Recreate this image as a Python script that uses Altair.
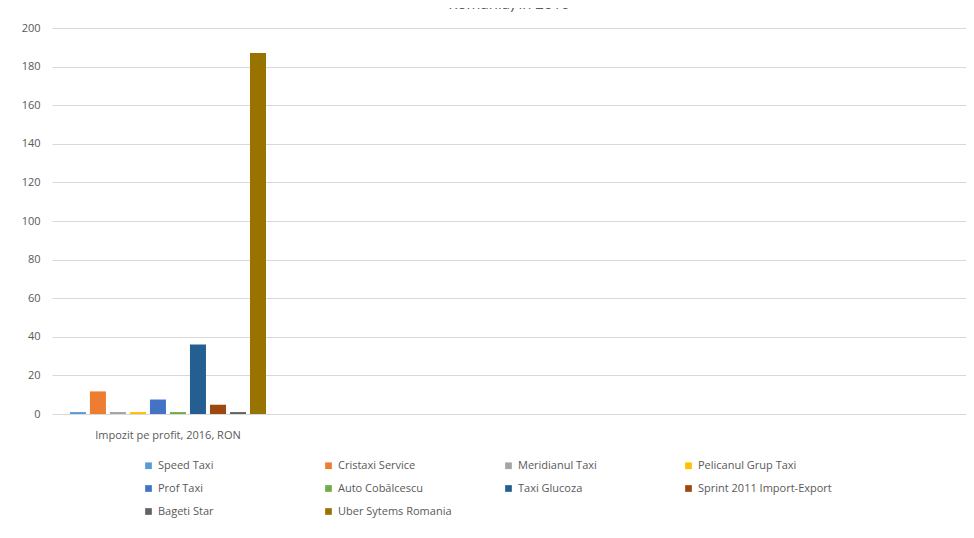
import altair as alt
import pandas as pd

categories = ["Impozit pe profit, 2016, RON", "c2", "c3", "c4"]
series = ["Speed Taxi", "Cristaxi Service", "Meridianul Taxi", "Pelicanul Grup Taxi",
          "Prof Taxi", "Auto Cobălcescu", "Taxi Glucoza", "Sprint 2011 Import-Export",
          "Bageti Star", "Uber Sytems Romania"]
values = [1, 11.7, 1, 1, 7.5, 1, 36, 4.8, 1, 187]
colors = ["#5B9BD5", "#ED7D31", "#A5A5A5", "#FFC000", "#4472C4", "#70AD47",
          "#255E91", "#9E480E", "#636363", "#997300"]
title_text = "Romania) în 2016"

df = pd.DataFrame({"cat": [categories[0]] * len(series), "series": series, "value": values})

txt = "#595959"
bars = alt.Chart(df).mark_bar().encode(
    x=alt.X("cat:N", scale=alt.Scale(domain=categories, paddingInner=0.12, paddingOuter=0.07),
            axis=alt.Axis(title=None, labelAngle=0, ticks=False, domain=False,
                          labelExpr="datum.index == 0 ? datum.label : ''",
                          labelColor=txt, labelFontSize=11, labelPadding=15,
                          labelFont="Open Sans")),
    xOffset=alt.XOffset("series:N", sort=series,
                        scale=alt.Scale(domain=series, paddingInner=0.2, paddingOuter=0.1)),
    y=alt.Y("value:Q", scale=alt.Scale(domain=[0, 200]),
            axis=alt.Axis(title=None, values=list(range(0, 201, 20)), ticks=False, domain=False,
                          gridColor="#d9d9d9", labelColor=txt, labelFontSize=11,
                          labelPadding=12, labelFont="Open Sans")),
    color=alt.Color("series:N", sort=series,
                    scale=alt.Scale(domain=series, range=colors),
                    legend=alt.Legend(title=None, orient="none", legendX=91, legendY=432,
                                      direction="horizontal",
                                      columns=4, gridAlign="all", columnPadding=31,
                                      rowPadding=11, symbolType="square", symbolSize=45,
                                      labelColor=txt, labelFontSize=11,
                                      labelFont="Open Sans", labelLimit=200)),
)

chart = bars.properties(
    width=914, height=386,
    autosize=alt.AutoSizeParams(type="none"),
    padding={"left": 44, "top": 20, "right": 0, "bottom": 116},
    title=alt.Title(title_text, fontSize=15, color=txt, fontWeight="normal",
                    font="Open Sans", anchor="middle", offset=10),
).configure_view(stroke=None)

chart.save("out.html", embed_options={"renderer": "svg", "actions": False})
